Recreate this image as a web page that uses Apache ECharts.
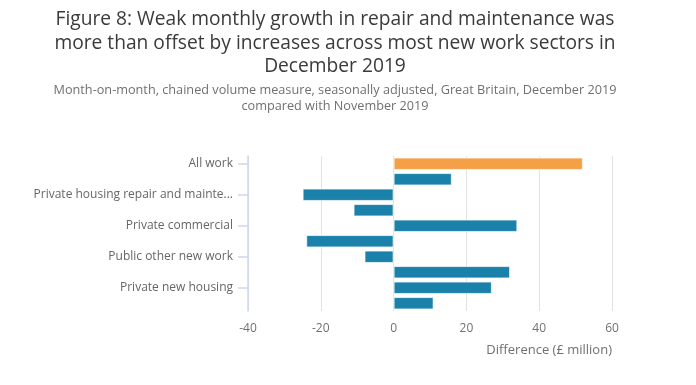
<!DOCTYPE html>
<html>
<head>
<meta charset="utf-8">
<script src="https://cdn.jsdelivr.net/npm/echarts@6/dist/echarts.min.js"></script>
<style>html,body{margin:0;padding:0;background:#fff}#c{width:696px;height:385px}</style>
</head>
<body>
<div id="c"></div>
<script>
var categories = [
  "All work",
  "Public housing repair and maintenance",
  "Private housing repair and maintenance",
  "Non-housing repair and maintenance",
  "Private commercial",
  "Private industrial",
  "Public other new work",
  "Infrastructure",
  "Private new housing",
  "Public new housing"
];
var values = [52, 16, -25, -11, 34, -24, -8, 32, 27, 11];
var xTicks = [-40, -20, 0, 20, 40, 60];

var chart = echarts.init(document.getElementById('c'));
var font = '"Open Sans", "Noto Sans", sans-serif';
chart.setOption({
  animation: false,
  title: [{
    text: 'Figure 8: Weak monthly growth in repair and maintenance was\nmore than offset by increases across most new work sectors in\nDecember 2019',
    left: 330, top: 3, textAlign: 'center',
    textStyle: {fontFamily: font, fontSize: 19.2, fontWeight: 'normal', color: '#3a3a3a', lineHeight: 23.5}
  }, {
    text: 'Month-on-month, chained volume measure, seasonally adjusted, Great Britain, December 2019\ncompared with November 2019',
    left: 330, top: 77, textAlign: 'center',
    textStyle: {fontFamily: font, fontSize: 12.7, fontWeight: 'normal', color: '#707070', lineHeight: 16.5}
  }],
  grid: {left: 248, right: 84, top: 156, bottom: 74, containLabel: false},
  xAxis: {
    type: 'value', min: xTicks[0], max: xTicks[xTicks.length - 1], interval: 20,
    name: 'Difference (£ million)', nameLocation: 'end', nameGap: 0,
    nameTextStyle: {fontFamily: font, fontSize: 13, color: '#707070', align: 'right', verticalAlign: 'top', padding: [33, 0, 0, 0]},
    axisLine: {show: false}, axisTick: {show: false},
    axisLabel: {fontFamily: font, fontSize: 12, color: '#707070', margin: 12},
    splitLine: {show: true, lineStyle: {color: '#e2e2e2', width: 1}}
  },
  yAxis: {
    type: 'category', data: categories, inverse: true,
    axisLine: {show: true, onZero: false, lineStyle: {color: '#cdd7f0', width: 1.5}},
    axisTick: {show: true, alignWithLabel: true, interval: 1, length: 10, lineStyle: {color: '#cdd7f0', width: 1.5}},
    axisLabel: {interval: 1, fontFamily: font, fontSize: 12, color: '#666', margin: 15, width: 203, overflow: 'truncate', ellipsis: '...'}
  },
  series: [{
    type: 'bar', barWidth: '80%',
    data: values.map(function (v, i) {
      return {value: v, itemStyle: {color: i === 0 ? '#f59f47' : '#1a82aa'}};
    }),
    itemStyle: {borderColor: 'rgba(255,255,255,0.7)', borderWidth: 1}
  }]
});
</script>
</body>
</html>
